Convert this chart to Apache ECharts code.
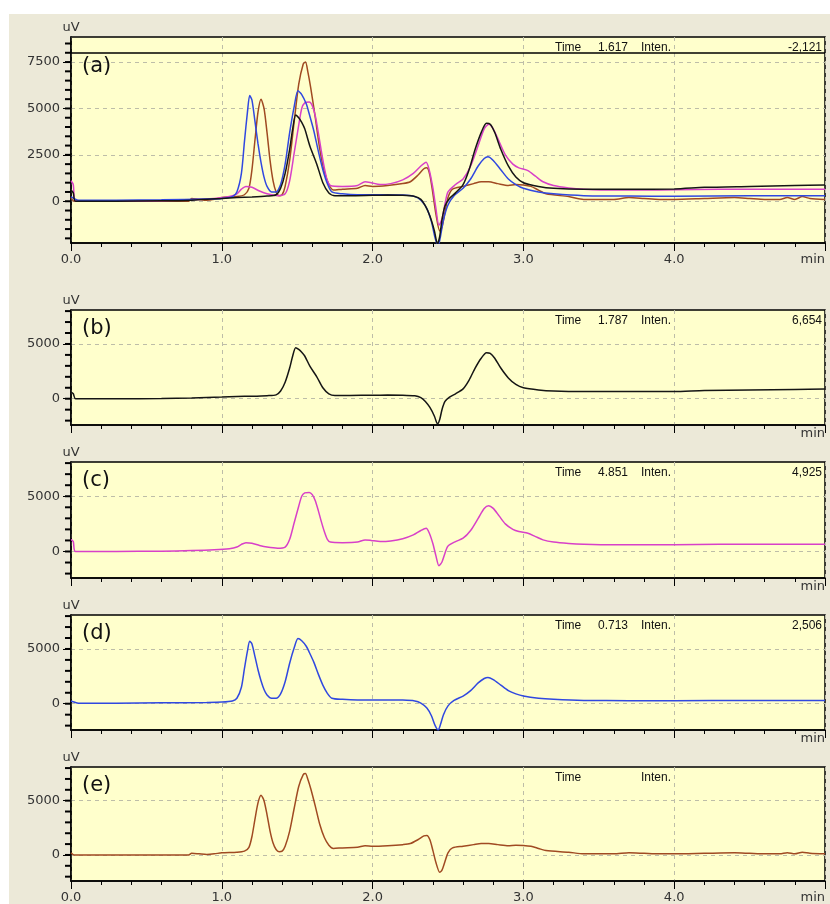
<!DOCTYPE html>
<html><head><meta charset="utf-8">
<script src="https://cdn.jsdelivr.net/npm/echarts@6/dist/echarts.min.js"></script>
<style>html,body{margin:0;padding:0;background:#fff}#c{width:830px;height:904px}</style>
</head><body><div id="c"></div>
<script>
// ---- data ----
const traceB = [[0,600],[0.015,450],[0.03,0],[0.3,0],[0.6,20],[0.8,60],[1.0,150],[1.1,200],[1.2,230],[1.3,280],[1.36,350],[1.39,700],[1.42,1500],[1.45,2800],[1.47,3900],[1.49,4650],[1.51,4500],[1.53,4250],[1.55,3900],[1.585,2950],[1.63,2000],[1.67,1000],[1.71,450],[1.75,300],[1.85,300],[2.0,320],[2.1,330],[2.2,320],[2.28,260],[2.32,100],[2.35,-250],[2.38,-800],[2.41,-1600],[2.43,-2300],[2.445,-1900],[2.46,-1000],[2.48,-250],[2.51,150],[2.55,450],[2.6,900],[2.64,1700],[2.68,2800],[2.72,3700],[2.755,4200],[2.78,4150],[2.81,3700],[2.85,2800],[2.9,1900],[2.95,1300],[3.0,1000],[3.1,800],[3.2,700],[3.4,650],[3.7,650],[4.0,660],[4.2,750],[4.5,800],[4.8,850],[5.0,880]];
const traceC = [[0,1100],[0.015,900],[0.03,0],[0.3,0],[0.6,30],[0.8,80],[0.95,150],[1.05,250],[1.1,400],[1.13,650],[1.16,800],[1.2,750],[1.25,550],[1.3,400],[1.37,300],[1.42,400],[1.45,1100],[1.48,2600],[1.51,4100],[1.53,5000],[1.55,5300],[1.58,5350],[1.6,5150],[1.62,4600],[1.64,3700],[1.66,2700],[1.68,1800],[1.7,1100],[1.72,850],[1.8,800],[1.9,850],[1.95,1050],[1.99,1000],[2.05,900],[2.12,950],[2.2,1150],[2.27,1500],[2.32,1900],[2.355,2100],[2.375,1700],[2.4,700],[2.42,-400],[2.44,-1300],[2.46,-950],[2.48,-150],[2.5,500],[2.55,900],[2.6,1200],[2.65,1900],[2.7,3000],[2.74,3900],[2.77,4150],[2.8,3900],[2.84,3200],[2.88,2500],[2.93,2000],[2.97,1800],[3.03,1650],[3.08,1350],[3.13,1050],[3.2,850],[3.3,720],[3.4,650],[3.6,600],[3.8,600],[4.0,620],[4.3,650],[4.6,650],[5.0,650]];
const traceD = [[0,250],[0.02,150],[0.05,50],[0.3,50],[0.6,80],[0.9,120],[1.0,150],[1.07,250],[1.1,500],[1.13,1500],[1.15,3200],[1.17,4800],[1.185,5700],[1.2,5450],[1.22,4300],[1.24,3100],[1.26,2100],[1.28,1300],[1.3,800],[1.33,500],[1.36,500],[1.39,900],[1.42,2000],[1.45,3700],[1.48,5100],[1.505,5950],[1.53,5750],[1.56,5250],[1.58,4700],[1.61,3800],[1.64,2700],[1.67,1700],[1.7,950],[1.73,500],[1.8,400],[1.9,350],[2.05,350],[2.2,330],[2.28,250],[2.32,50],[2.36,-400],[2.39,-1100],[2.415,-2000],[2.435,-2400],[2.45,-1900],[2.47,-1000],[2.5,-200],[2.54,300],[2.6,700],[2.65,1200],[2.7,1900],[2.74,2300],[2.765,2400],[2.8,2200],[2.85,1700],[2.9,1200],[2.95,900],[3.0,700],[3.1,500],[3.2,400],[3.4,300],[3.7,280],[4.0,270],[4.5,300],[5.0,300]];
const traceE = [[0,200],[0.02,0],[0.5,0],[0.78,0],[0.8,150],[0.85,100],[0.9,50],[0.95,100],[1.0,200],[1.1,250],[1.15,350],[1.18,700],[1.2,1700],[1.22,3300],[1.24,4800],[1.26,5500],[1.28,5000],[1.3,3700],[1.32,2200],[1.34,1100],[1.36,500],[1.38,300],[1.4,350],[1.42,800],[1.45,2200],[1.48,4300],[1.51,6300],[1.54,7400],[1.555,7500],[1.57,7000],[1.59,6100],[1.62,4500],[1.65,2800],[1.68,1600],[1.71,900],[1.74,600],[1.8,650],[1.9,700],[1.95,850],[2.0,800],[2.1,850],[2.2,950],[2.25,1050],[2.3,1400],[2.34,1750],[2.36,1800],[2.38,1400],[2.4,400],[2.42,-700],[2.445,-1600],[2.46,-1400],[2.48,-600],[2.5,200],[2.53,650],[2.6,800],[2.67,950],[2.72,1050],[2.77,1050],[2.83,950],[2.9,850],[2.95,900],[3.0,880],[3.05,800],[3.1,600],[3.15,400],[3.3,250],[3.4,100],[3.5,100],[3.6,100],[3.7,200],[3.8,150],[3.9,100],[4.0,100],[4.2,150],[4.4,200],[4.5,150],[4.6,100],[4.7,100],[4.75,200],[4.8,100],[4.85,250],[4.9,150],[5.0,100]];

const panelNames = ['(a)','(b)','(c)','(d)','(e)'];
const cursorTime = ['1.617','1.787','4.851','0.713',''];
const cursorInten = ['-2,121','6,654','4,925','2,506',''];
const xLabelValues = [0,1,2,3,4,5];
const yMajorA = [0,2500,5000,7500];
const yMinorA = [-2000,-1500,-1000,-500,0,500,1000,1500,2000,2500,3000,3500,4000,4500,5000,5500,6000,6500,7000,7500,8000,8500];
const yMajorS = [0,5000];
const yMinorS = [-2000,-1000,0,1000,2000,3000,4000,5000,6000,7000,8000];
const cursorLineA = 8000;

// ---- layout / style ----
const COL = {b:'#151515', c:'#D840C8', d:'#3048E0', e:'#A04A22'};
const LEFT = 71, RIGHT = 5;
const gridsPos = [
  {top:37,height:206},{top:310,height:115},{top:462,height:116},{top:615,height:115},{top:767,height:114}
];
const yRange = [[-2250,8850],[-2400,8100],[-2400,8100],[-2400,8100],[-2400,8100]];
const FONT = '"DejaVu Sans", Verdana, sans-serif';

const grid = gridsPos.map(g => ({left:LEFT, right:RIGHT, top:g.top, height:g.height, show:true,
  backgroundColor:'#FFFFCC', borderColor:'#000', borderWidth:1.5, containLabel:false}));

const xAxis = gridsPos.map((g,i) => ({
  type:'value', gridIndex:i, min:0, max:5, interval:1,
  axisLine:{show:true, onZero:false, lineStyle:{color:'#000', width:1.5}},
  axisTick:{show:true, length:8, lineStyle:{color:'#000', width:1}},
  minorTick:{show:true, splitNumber:5, length:4, lineStyle:{color:'#000', width:1}},
  splitLine:{show:true, lineStyle:{color:'#BDBDA8', type:[4,4], width:1}},
  axisLabel:{show:true, color:'#333', fontSize:13, fontFamily:FONT, margin:(i===0||i===4)?10:2,
    alignMaxLabel:'right', customValues:xLabelValues,
    formatter: v => v===5 ? 'min' : ((i===0||i===4) ? v.toFixed(1) : '')}
}));

const yAxis = gridsPos.map((g,i) => {
  const major = i===0 ? yMajorA : yMajorS;
  return {
    type:'value', gridIndex:i, min:yRange[i][0], max:yRange[i][1], position:'left',
    name:'uV', nameLocation:'end', nameGap:3,
    nameTextStyle:{color:'#333', fontSize:13, fontFamily:FONT, align:'center', verticalAlign:'bottom'},
    axisLine:{show:true, onZero:false, lineStyle:{color:'#000', width:1.5}},
    axisTick:{show:true, length:8, customValues:major, lineStyle:{color:'#000', width:1}},
    axisLabel:{show:true, customValues:major, color:'#333', fontSize:13, fontFamily:FONT, margin:11,
      formatter: v => String(v)},
    splitLine:{show:true, lineStyle:{color:'#BDBDA8', type:[4,4], width:1}}
  };
});

function ser(data, color, gi, z, extra) {
  return Object.assign({type:'line', data:data, xAxisIndex:gi, yAxisIndex:gi, showSymbol:false,
    symbol:'none', smooth:0.25, lineStyle:{color:color, width:1.5}, itemStyle:{color:color},
    z:z, silent:true, animation:false, clip:true}, extra||{});
}

const series = [
  ser(traceE, COL.e, 0, 2),
  ser(traceC, COL.c, 0, 3),
  ser(traceD, COL.d, 0, 4),
  ser(traceB, COL.b, 0, 5, {markLine:{silent:true, symbol:'none', label:{show:false},
     lineStyle:{color:'#000', width:1.5, type:'solid'}, data:[{yAxis:cursorLineA}]}}),
  ser(traceB, COL.b, 1, 5),
  ser(traceC, COL.c, 2, 5),
  ser(traceD, COL.d, 3, 5),
  ser(traceE, COL.e, 4, 5)
];
// minor y-axis ticks, placed on the axis by the library's scales
gridsPos.forEach((g,i) => {
  const minor = i===0 ? yMinorA : yMinorS;
  series.push({type:'scatter', xAxisIndex:i, yAxisIndex:i, data:minor.map(v => [0, v]),
    symbol:'rect', symbolSize:[6,2], symbolOffset:[-3,0], showSymbol:true,
    itemStyle:{color:'#000', opacity:1}, emphasis:{disabled:true},
    clip:false, silent:true, animation:false, z:20, zlevel:0});
});

const graphic = [
  {type:'rect', shape:{x:0,y:0,width:830,height:14}, style:{fill:'#fff'}, z:-1},
  {type:'rect', shape:{x:0,y:0,width:9,height:904}, style:{fill:'#fff'}, z:-1}
];
gridsPos.forEach((g,i) => {
  const ty = g.top + 11;
  const hf = '12px "Liberation Sans", Arial, sans-serif';
  graphic.push({type:'text', x:555, y:ty, z:100, style:{text:'Time', font:hf, fill:'#111', align:'left', verticalAlign:'middle'}});
  if (cursorTime[i]) graphic.push({type:'text', x:598, y:ty, z:100, style:{text:cursorTime[i], font:hf, fill:'#111', align:'left', verticalAlign:'middle'}});
  graphic.push({type:'text', x:641, y:ty, z:100, style:{text:'Inten.', font:hf, fill:'#111', align:'left', verticalAlign:'middle'}});
  if (cursorInten[i]) graphic.push({type:'text', x:822, y:ty, z:100, style:{text:cursorInten[i], font:hf, fill:'#111', align:'right', verticalAlign:'middle'}});
  const ly = i===0 ? 67 : g.top + 19;
  graphic.push({type:'text', x:82, y:ly, z:100, style:{text:panelNames[i], font:'21px "DejaVu Sans", Verdana, sans-serif', fill:'#111', align:'left', verticalAlign:'middle'}});
});

const chart = echarts.init(document.getElementById('c'), null, {renderer:'canvas'});
chart.setOption({
  backgroundColor:'#ECE9D8', animation:false,
  grid, xAxis, yAxis, series, graphic
});
</script></body></html>
